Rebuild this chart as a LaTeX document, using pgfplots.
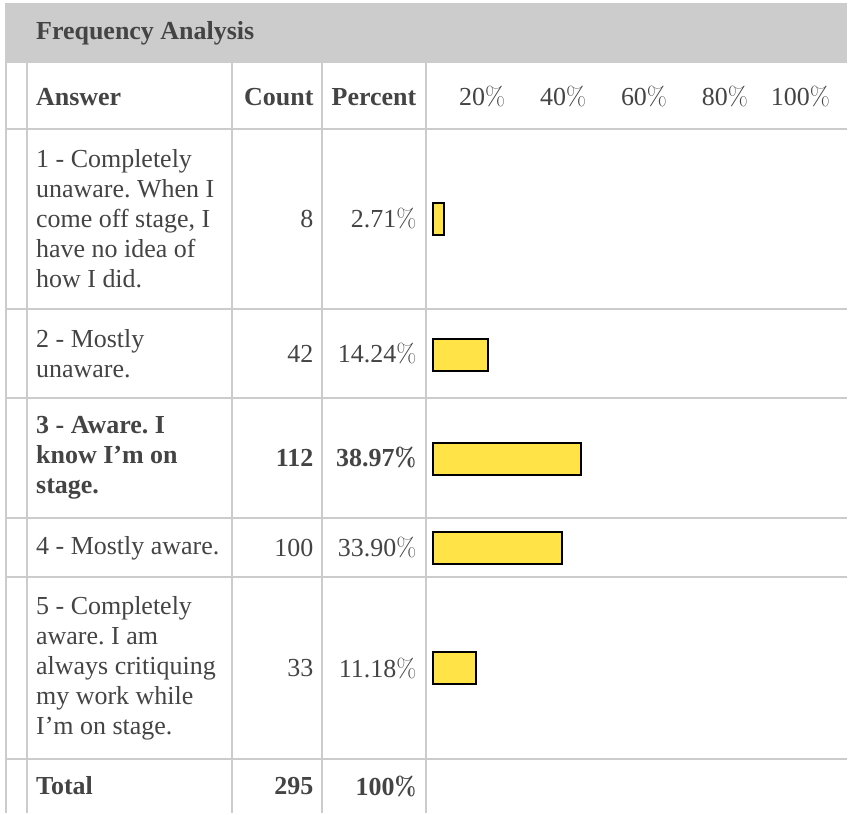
\documentclass[border=0pt]{standalone}
\usepackage{fontspec}
\setmainfont{Liberation Serif}
\usepackage{pgfplots}
\pgfplotsset{compat=1.18}
\definecolor{gridc}{HTML}{CCCCCC}
\definecolor{txt}{HTML}{444444}
\definecolor{baryel}{HTML}{FFE347}
\newcommand{\pc}{{\fontfamily{lmr}\selectfont\%}}
\frenchspacing
\pgfplotstableread{
pct ypos
2.71 219.5
14.24 355
38.97 459.5
33.90 549
11.18 669
}\bardata
\begin{document}
\begin{tikzpicture}[x=1pt,y=1pt]
\begin{axis}[name=tab, at={(0pt,0pt)}, anchor=south west,
  width=848pt, height=814pt, scale only axis,
  xmin=0, xmax=848, ymin=0, ymax=814, y dir=reverse,
  hide axis, clip=false]
 \fill[white] (axis cs:0,0) rectangle (axis cs:848,814);
 \fill[gridc] (axis cs:5,3) rectangle (axis cs:848,63);
 % vertical lines
 \foreach \xx in {6,27,232,322,426}{
   \edef\tmp{\noexpand\draw[gridc, line width=2pt] (axis cs:\xx,63) -- (axis cs:\xx,814);}\tmp
 }
 \foreach \yy in {129,309,398,519,578,760}{
   \edef\tmp{\noexpand\draw[gridc, line width=2pt] (axis cs:6,\yy) -- (axis cs:848,\yy);}\tmp
 }
 \tikzset{tx/.style={inner sep=0pt, text=txt, font=\fontsize{26}{30}\selectfont\rmfamily},
          txb/.style={tx, font=\fontsize{26}{30}\selectfont\rmfamily\bfseries}}
 % title
 \node[txb, anchor=west] at (axis cs:36,33) {Frequency Analysis};
 % header
 \node[txb, anchor=west] at (axis cs:36,97) {Answer};
 \node[txb, anchor=east] at (axis cs:314,97) {Count};
 \node[txb, anchor=east] at (axis cs:417,97) {Percent};
 \node[tx, anchor=east] at (axis cs:506,97) {20\pc};
 \node[tx, anchor=east] at (axis cs:587,97) {40\pc};
 \node[tx, anchor=east] at (axis cs:668,97) {60\pc};
 \node[tx, anchor=east] at (axis cs:749,97) {80\pc};
 \node[tx, anchor=east] at (axis cs:831,97) {100\pc};
 % row 1
 \node[tx, anchor=west, align=left] at (axis cs:36,219) {1 - Completely\\unaware. When I\\come off stage, I\\have no idea of\\how I did.};
 \node[tx, anchor=east] at (axis cs:314,219) {8};
 \node[tx, anchor=east] at (axis cs:417,219) {2.71\pc};
 % row 2
 \node[tx, anchor=west, align=left] at (axis cs:36,354) {2 - Mostly\\unaware.};
 \node[tx, anchor=east] at (axis cs:314,354) {42};
 \node[tx, anchor=east] at (axis cs:417,354) {14.24\pc};
 % row 3
 \node[txb, anchor=west, align=left] at (axis cs:36,458.5) {3 - Aware. I\\know I’m on\\stage.};
 \node[txb, anchor=east] at (axis cs:314,458.5) {112};
 \node[txb, anchor=east] at (axis cs:417,458.5) {38.97\pc};
 % row 4
 \node[tx, anchor=west] at (axis cs:36,548.5) {4 - Mostly aware.};
 \node[tx, anchor=east] at (axis cs:314,548.5) {100};
 \node[tx, anchor=east] at (axis cs:417,548.5) {33.90\pc};
 % row 5
 \node[tx, anchor=west, align=left] at (axis cs:36,669) {5 - Completely\\aware. I am\\always critiquing\\my work while\\I’m on stage.};
 \node[tx, anchor=east] at (axis cs:314,669) {33};
 \node[tx, anchor=east] at (axis cs:417,669) {11.18\pc};
 % total
 \node[txb, anchor=west] at (axis cs:36,787) {Total};
 \node[txb, anchor=east] at (axis cs:314,787) {295};
 \node[txb, anchor=east] at (axis cs:417,787) {100\pc};
\end{axis}
\begin{axis}[at={(426pt,0pt)}, anchor=south west,
  width=422pt, height=814pt, scale only axis,
  xmin=-2.105, xmax=108.95, ymin=0, ymax=814, y dir=reverse,
  hide axis, clip=false, xbar, bar width=32pt]
 \addplot[fill=baryel, draw=black, line width=2pt] table[x=pct, y=ypos] {\bardata};
\end{axis}
\end{tikzpicture}
\end{document}
